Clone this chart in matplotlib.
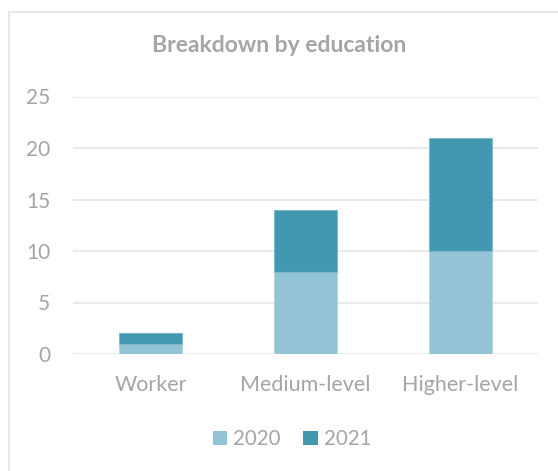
import matplotlib.pyplot as plt
from matplotlib.patches import Rectangle

categories = ["Worker", "Medium-level", "Higher-level"]
series_names = ["2020", "2021"]
values_2020 = [1, 8, 10]
values_2021 = [1, 6, 11]
y_ticks = [0, 5, 10, 15, 20, 25]

c2020 = "#93C3D5"
c2021 = "#4298AF"
txt = "#A5A5A5"
grid_c = "#E8E8E8"

plt.rcParams["font.family"] = ["Lato", "DejaVu Sans"]

W, H = 558, 471
fig = plt.figure(figsize=(W / 100, H / 100), dpi=100)

# chart frame
fig.patches.append(Rectangle((8.5 / W, -0.05), 1.2, (H - 11.5) / H + 0.05,
                             transform=fig.transFigure, fill=False,
                             edgecolor="#E3E3E3", linewidth=1.2))

ax = fig.add_axes([73 / W, 1 - 354 / H, (538 - 73) / W, (354 - 96.5) / H])

x = list(range(len(categories)))
bw = 0.405
ax.bar(x, values_2020, width=bw, color=c2020, edgecolor="#B5D7E2",
       linewidth=0.8, label=series_names[0], zorder=3)
ax.bar(x, values_2021, width=bw, bottom=values_2020, color=c2021,
       edgecolor="#7FB8C8", linewidth=0.8, label=series_names[1], zorder=3)

ax.set_xlim(-0.5, len(categories) - 0.5)
ax.set_ylim(0, 25)
ax.set_yticks(y_ticks)
ax.set_xticks(x)
ax.set_xticklabels(categories)
ax.yaxis.grid(True, color=grid_c, linewidth=1.3, zorder=0)
ax.set_axisbelow(True)
for s in ax.spines.values():
    s.set_visible(False)
ax.tick_params(axis="both", length=0, colors=txt)
ax.tick_params(axis="y", pad=16.5, labelsize=15)
ax.tick_params(axis="x", pad=15, labelsize=15.5)

fig.text(0.5, 1 - 46 / H, "Breakdown by education", ha="center", va="center",
         fontsize=16.5, fontweight="bold", color=txt)

leg = fig.legend(loc="center", bbox_to_anchor=(292 / W, 1 - 439 / H), ncol=2,
                 frameon=False, fontsize=14.8, handlelength=0.7,
                 handleheight=0.7, handletextpad=0.3, columnspacing=1.1)
for t in leg.get_texts():
    t.set_color(txt)
for h in leg.legend_handles:
    h.set_edgecolor("none")

fig.savefig("out.png", dpi=100)
